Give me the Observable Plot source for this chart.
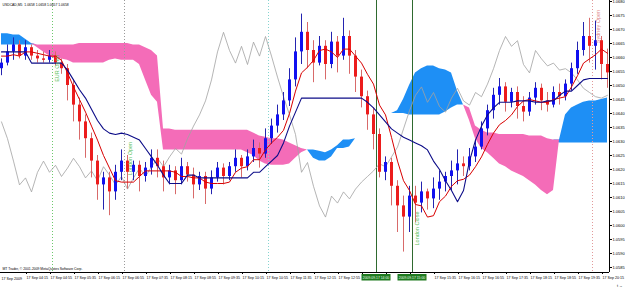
<!DOCTYPE html>
<html><head><meta charset="utf-8">
<script src="https://cdn.jsdelivr.net/npm/d3@7"></script>
<script src="https://cdn.jsdelivr.net/npm/@observablehq/plot@0.6"></script>
<style>
html,body{margin:0;padding:0;background:#fff;}
#wrap{width:625px;height:289px;overflow:hidden;}
</style></head><body><div id="wrap"></div>
<script>
const header = "USDCAD,M5  1.0658 1.0658 1.0657 1.0658";
const footer = "MT Trader, \u00a9 2001-2009 MetaQuotes Software Corp.";
const firstBarTime = "03:35";
const barMinutes = 10;

const open = [1.0656,1.0658,1.0662,1.06645,1.06605,1.06635,1.06605,1.06595,1.0659,1.06605,1.0658,1.0656,1.0650,1.0643,1.0637,1.0631,1.0623,1.06145,1.0617,1.0612,1.0619,1.0623,1.0619,1.06215,1.06175,1.06205,1.0624,1.0621,1.0617,1.06195,1.0616,1.0621,1.0618,1.06145,1.06175,1.0613,1.0617,1.06205,1.06175,1.0621,1.0624,1.0621,1.06245,1.06275,1.06255,1.0631,1.06355,1.06395,1.06445,1.0652,1.0662,1.0669,1.06625,1.0658,1.0664,1.06575,1.06655,1.06605,1.06675,1.06605,1.0653,1.0646,1.06395,1.06325,1.0619,1.06225,1.0614,1.0607,1.0603,1.06105,1.0608,1.0612,1.06095,1.0613,1.06155,1.06175,1.06195,1.0622,1.0621,1.06245,1.0628,1.06345,1.0641,1.06465,1.06495,1.0644,1.06475,1.06425,1.06405,1.06455,1.0649,1.06445,1.0643,1.06475,1.0646,1.06505,1.0656,1.06625,1.06675,1.0664,1.0666,1.06575];
const high = [1.06595,1.06645,1.0667,1.0666,1.0666,1.06645,1.06625,1.0662,1.06625,1.0662,1.06595,1.06575,1.0652,1.06455,1.06395,1.0633,1.0625,1.0619,1.0619,1.06215,1.0627,1.0625,1.0623,1.0623,1.06225,1.0627,1.0627,1.0623,1.06215,1.0621,1.0624,1.06225,1.06205,1.0619,1.0619,1.06195,1.06225,1.0622,1.06225,1.0627,1.0625,1.0627,1.06305,1.06295,1.06345,1.0638,1.0643,1.06475,1.0656,1.0667,1.06755,1.06725,1.0666,1.06675,1.0666,1.0669,1.06675,1.0674,1.06695,1.06625,1.06555,1.0648,1.0642,1.06345,1.06245,1.0624,1.0616,1.06105,1.0614,1.0614,1.06155,1.0613,1.0617,1.06195,1.0619,1.0623,1.0627,1.06245,1.06275,1.06305,1.0637,1.0643,1.0649,1.06525,1.0651,1.0649,1.06495,1.0646,1.06475,1.0651,1.06505,1.06475,1.06495,1.06505,1.0652,1.0658,1.06655,1.06725,1.0674,1.0673,1.06675,1.0663];
const low = [1.06535,1.0657,1.0659,1.06595,1.0659,1.0659,1.0658,1.0658,1.0658,1.0657,1.0654,1.06445,1.0637,1.06305,1.0624,1.0617,1.0609,1.06055,1.06035,1.0609,1.0616,1.0613,1.0616,1.0612,1.06155,1.0618,1.0617,1.0612,1.06145,1.0611,1.06145,1.06155,1.06095,1.06125,1.06075,1.0611,1.06155,1.06145,1.0616,1.0619,1.0617,1.06195,1.06225,1.06205,1.0624,1.0629,1.0633,1.06375,1.06425,1.06495,1.06575,1.0656,1.0651,1.0657,1.0652,1.0656,1.06545,1.0659,1.0654,1.06475,1.0642,1.0634,1.0627,1.0617,1.0616,1.0607,1.05975,1.05905,1.05975,1.0601,1.06045,1.06055,1.0606,1.0609,1.0612,1.06125,1.06145,1.06175,1.06195,1.06225,1.0627,1.0632,1.0638,1.0643,1.06405,1.0642,1.0638,1.0637,1.0639,1.0643,1.0641,1.06405,1.0642,1.0643,1.06445,1.0648,1.0654,1.06605,1.0658,1.06555,1.0652,1.0649];
const close = [1.0658,1.0662,1.06645,1.06605,1.06635,1.06605,1.06595,1.0659,1.06605,1.0658,1.0656,1.0650,1.0643,1.0637,1.0631,1.0623,1.06145,1.0617,1.0612,1.0619,1.0623,1.0619,1.06215,1.06175,1.06205,1.0624,1.0621,1.0617,1.06195,1.0616,1.0621,1.0618,1.06145,1.06175,1.0613,1.0617,1.06205,1.06175,1.0621,1.0624,1.0621,1.06245,1.06275,1.06255,1.0631,1.06355,1.06395,1.06445,1.0652,1.0662,1.0669,1.06625,1.0658,1.0664,1.06575,1.06655,1.06605,1.06675,1.06605,1.0653,1.0646,1.06395,1.06325,1.0619,1.06225,1.0614,1.0607,1.0603,1.06105,1.0608,1.0612,1.06095,1.0613,1.06155,1.06175,1.06195,1.0622,1.0621,1.06245,1.0628,1.06345,1.0641,1.06465,1.06495,1.0644,1.06475,1.06425,1.06405,1.06455,1.0649,1.06445,1.0643,1.06475,1.0646,1.06505,1.0656,1.06625,1.06675,1.0664,1.0666,1.06575,1.06545];

const tenkan = [1.06605,1.06605,1.0661,1.06605,1.0662,1.0662,1.06615,1.0661,1.06605,1.06605,1.0659,1.06545,1.06495,1.0645,1.06405,1.06355,1.06305,1.0625,1.06205,1.0616,1.06155,1.06155,1.06155,1.06175,1.06195,1.06195,1.06195,1.06195,1.06195,1.0619,1.06175,1.06175,1.0617,1.0617,1.06155,1.0615,1.0615,1.0615,1.06155,1.0619,1.06205,1.0621,1.06235,1.06235,1.0627,1.06295,1.06315,1.0634,1.0640,1.0648,1.06545,1.06565,1.0659,1.06625,1.0663,1.0662,1.0660,1.0663,1.0663,1.06605,1.0658,1.0654,1.06505,1.0643,1.06395,1.06315,1.0623,1.0616,1.06125,1.06075,1.0607,1.0603,1.06035,1.06085,1.06105,1.0614,1.0616,1.06165,1.0618,1.0621,1.06245,1.0629,1.0633,1.0636,1.06375,1.06395,1.06425,1.06445,1.0645,1.06445,1.0644,1.0644,1.0645,1.06455,1.0646,1.06495,1.06535,1.0658,1.06595,1.0661,1.0663,1.06615];
const kijun = [1.0662,1.0662,1.0662,1.0662,1.0662,1.0658,1.0658,1.0658,1.0658,1.0658,1.0658,1.06555,1.0652,1.06485,1.06455,1.06415,1.06375,1.06345,1.0633,1.06325,1.0633,1.06325,1.06315,1.06305,1.06275,1.06245,1.06215,1.0618,1.0615,1.0615,1.0615,1.0618,1.0618,1.0617,1.0617,1.0617,1.0617,1.0617,1.0617,1.0617,1.0617,1.0617,1.0619,1.0619,1.0621,1.0623,1.0625,1.06295,1.06355,1.06405,1.06455,1.06455,1.06455,1.06455,1.06455,1.06455,1.06455,1.06455,1.06455,1.06455,1.06455,1.0644,1.0642,1.06395,1.0637,1.06345,1.0633,1.06315,1.06305,1.06295,1.06285,1.0627,1.0623,1.0620,1.0616,1.06125,1.06085,1.06125,1.0623,1.06305,1.06355,1.06395,1.0642,1.0644,1.0644,1.0644,1.06445,1.06445,1.06445,1.0644,1.0644,1.06445,1.06445,1.06465,1.0648,1.0648,1.0650,1.0652,1.06525,1.06525,1.06525,1.06525];
const senkouA = [1.06685,1.06685,1.0668,1.0668,1.06665,1.0665,1.06635,1.0662,1.06605,1.06595,1.06595,1.0659,1.0658,1.0658,1.0658,1.0658,1.0658,1.0658,1.0659,1.06595,1.0659,1.0659,1.0659,1.06575,1.0652,1.06465,1.0644,1.0627,1.0627,1.0627,1.0627,1.0627,1.0627,1.0627,1.0627,1.0627,1.0627,1.0627,1.0627,1.0627,1.0627,1.0626,1.0625,1.0623,1.0622,1.06215,1.06215,1.06215,1.0622,1.0624,1.0626,1.0627,1.0627,1.06265,1.0626,1.0627,1.06285,1.06305,1.06305,1.0631,1.0636,1.0638,1.0639,1.06395,1.06395,1.0640,1.0641,1.0645,1.0650,1.06545,1.0656,1.0657,1.0657,1.0656,1.06555,1.06545,1.0648,1.0643,1.06375,1.0631,1.06275,1.0626,1.0624,1.0622,1.0621,1.06195,1.06185,1.06175,1.0616,1.06145,1.06125,1.0611,1.06125,1.06305,1.06395,1.0642,1.0643,1.0644,1.06445,1.06445,1.0645,1.06455];
const senkouB = [1.06645,1.06645,1.06645,1.06645,1.06645,1.06645,1.06645,1.06645,1.06645,1.06645,1.06645,1.06645,1.06645,1.0665,1.0665,1.0665,1.0665,1.0665,1.0665,1.0665,1.0665,1.0665,1.06645,1.06645,1.06635,1.06625,1.06605,1.06345,1.06345,1.0634,1.0634,1.0634,1.0634,1.0634,1.0634,1.0634,1.0634,1.0634,1.0634,1.0634,1.0634,1.0634,1.0633,1.0632,1.06315,1.0631,1.0631,1.06305,1.06295,1.06285,1.06275,1.0627,1.0624,1.0623,1.0623,1.06245,1.06275,1.06275,1.0628,1.0631,1.0636,1.0638,1.0639,1.06395,1.06395,1.0640,1.0640,1.0640,1.06395,1.06395,1.06395,1.06395,1.06395,1.06395,1.06405,1.0642,1.0643,1.0643,1.0642,1.06355,1.0634,1.0633,1.0633,1.06325,1.06325,1.06325,1.06325,1.06325,1.0632,1.0632,1.0632,1.0631,1.06305,1.06295,1.06295,1.06295,1.06295,1.06295,1.06295,1.06295,1.06295,1.06295];
const lagging = [1.0637,1.0631,1.0623,1.06145,1.0617,1.0612,1.0619,1.0623,1.0619,1.06215,1.06175,1.06205,1.0624,1.0621,1.0617,1.06195,1.0616,1.0621,1.0618,1.06145,1.06175,1.0613,1.0617,1.06205,1.06175,1.0621,1.0624,1.0621,1.06245,1.06275,1.06255,1.0631,1.06355,1.06395,1.06445,1.0652,1.0662,1.0669,1.06625,1.0658,1.0664,1.06575,1.06655,1.06605,1.06675,1.06605,1.0653,1.0646,1.06395,1.06325,1.0619,1.06225,1.0614,1.0607,1.0603,1.06105,1.0608,1.0612,1.06095,1.0613,1.06155,1.06175,1.06195,1.0622,1.0621,1.06245,1.0628,1.06345,1.0641,1.06465,1.06495,1.0644,1.06475,1.06425,1.06405,1.06455,1.0649,1.06445,1.0643,1.06475,1.0646,1.06505,1.0656,1.06625,1.06675,1.0664,1.0666,1.06575,1.06545,1.06625,1.06595,1.0657,1.0658,1.06555,1.0656,1.06545,1.0652,1.0649,1.06475,1.0646,1.06455,1.06465];

const priceTicks = [1.0585,1.0590,1.0595,1.0600,1.0605,1.0610,1.0615,1.0620,1.0625,1.0630,1.0635,1.0640,1.0645,1.0650,1.0655,1.0660,1.0665,1.0670,1.0675,1.0680];
const timeTicks = ["04:15","04:55","05:35","06:15","06:55","07:35","08:15","08:55","09:35","10:15","10:55","11:35","12:15","12:55","13:35","14:15","14:55","15:35","16:15","16:55","17:35","18:15","18:55","19:35","20:15"];
const firstLabel = "17 Sep 2009";
const dayLabel = "17 Sep";
const dateStamp = "2009.09.17";
const eventTimes = ["05:00","07:00","11:00","14:00","15:00","20:00"];
const eventNames = ["EUR Open","London Open","","","London Close","Sydney Open"];
const markedTimes = ["14:00","15:00"];

const hm = s => { const [h, m] = s.split(":").map(Number); return h * 60 + m; };
const t0 = hm(firstBarTime);
const bars = close.map((c, i) => ({t: t0 + i * barMinutes, o: open[i], h: high[i], l: low[i], c}));
const bull = bars.filter(d => d.c >= d.o), bear = bars.filter(d => d.c < d.o);
const line = arr => arr.map((v, i) => ({t: t0 + i * barMinutes, v}));
const cloud = senkouA.map((a, i) => ({t: t0 + i * barMinutes, a, b: senkouB[i], top: Math.max(a, senkouB[i])}));
const evStyle = [
  {stroke: "#6cc86c", dash: "1,2", fill: "#5cbf5c", dy: 68, dx: 3},
  {stroke: "#9a9a9a", dash: "1,2", fill: "#5cbf5c", dy: 158, dx: 4},
  {stroke: "#86d4d0", dash: "1,2"},
  {stroke: "#2f6a2f", dash: null},
  {stroke: "#2f6a2f", dash: null, fill: "#5cbf5c", dy: 228, dx: 3},
  {stroke: "#e29a9a", dash: "1,2", fill: "#e08a8a", dy: 26, dx: 4}
];
const events = eventTimes.map((s, i) => ({t: hm(s), name: eventNames[i], ...evStyle[i]}));
const tickMin = timeTicks.map(hm);
const underBox = t => markedTimes.some(m => t > hm(m) - 26 && t < hm(m) + 20);

const font = '"Liberation Sans", Arial, sans-serif';
const marks = [
  Plot.areaY(cloud, {x: "t", y1: "b", y2: "top", fill: "#1e8ff5"}),
  Plot.areaY(cloud, {x: "t", y1: "a", y2: "top", fill: "#f46cb8"}),
  ...events.map(e => Plot.ruleX([e.t], {stroke: e.stroke, strokeWidth: 1, strokeDasharray: e.dash})),
  Plot.line(line(lagging), {x: "t", y: "v", stroke: "#a2a2a2", strokeWidth: 0.8}),
  Plot.ruleX(bear, {x: "t", y1: "l", y2: "h", stroke: "#d86a6a", strokeWidth: 1}),
  Plot.ruleX(bull, {x: "t", y1: "l", y2: "h", stroke: "#2424b0", strokeWidth: 1}),
  Plot.ruleX(bear, {x: "t", y1: "o", y2: "c", stroke: "#ec1c1c", strokeWidth: 3}),
  Plot.ruleX(bull, {x: "t", y1: "o", y2: "c", stroke: "#1010f0", strokeWidth: 3}),
  Plot.line(line(tenkan), {x: "t", y: "v", stroke: "#d80000", strokeWidth: 1}),
  Plot.line(line(kijun), {x: "t", y: "v", stroke: "#0c0c88", strokeWidth: 1.1}),
  ...events.filter(e => e.name).map(e => Plot.text([e.name], {x: () => e.t, frameAnchor: "top", dy: e.dy, dx: e.dx, rotate: -90, fill: e.fill, fontSize: 5.5, text: d => d})),
  Plot.ruleY([1.058321], {stroke: "#000"}),
  Plot.ruleX([1228.33], {stroke: "#000"}),
  Plot.axisY(priceTicks, {anchor: "right", tickSize: 2, tickPadding: 1, tickFormat: d => d.toFixed(4), fontSize: 4, fill: "#000"}),
  Plot.axisX(tickMin, {anchor: "bottom", tickSize: 2, tickPadding: 1.5, textAnchor: "start", dx: 1, fontSize: 3.6, tickFormat: t => underBox(t) ? "" : dayLabel + " " + timeTicks[tickMin.indexOf(t)], fill: "#000"}),
  Plot.text([firstLabel], {frameAnchor: "bottom-left", dx: 1, dy: 7, fontSize: 3.6, fill: "#000", text: d => d}),
  Plot.text([header], {frameAnchor: "top-left", dx: 2, dy: 3, fontSize: 3.4, fill: "#000", text: d => d}),
  Plot.text([footer], {frameAnchor: "bottom-left", dx: 2, dy: -3, fontSize: 3.4, fill: "#000", text: d => d})
];

const chart = Plot.plot({
  width: 625, height: 289,
  marginLeft: 0, marginRight: 16, marginTop: 0, marginBottom: 17,
  style: {fontFamily: font, background: "#fff"},
  x: {domain: [213.33, 1228.33], axis: null},
  y: {domain: [1.058321, 1.068036], axis: null},
  marks
});
document.getElementById("wrap").appendChild(chart);

const sx = chart.scale("x");
const svg = d3.select(chart);
markedTimes.forEach(s => {
  const cx = sx.apply(hm(s));
  const g = svg.append("g");
  g.append("rect").attr("x", cx - 14.5).attr("y", 274).attr("width", 29).attr("height", 6.5).attr("fill", "#1f7a1f");
  g.append("text").attr("x", cx).attr("y", 278.8).attr("text-anchor", "middle").attr("font-size", 3.4).attr("font-family", font).attr("fill", "#e8ffe8").text(dateStamp + " " + s);
});
</script>
</body></html>
